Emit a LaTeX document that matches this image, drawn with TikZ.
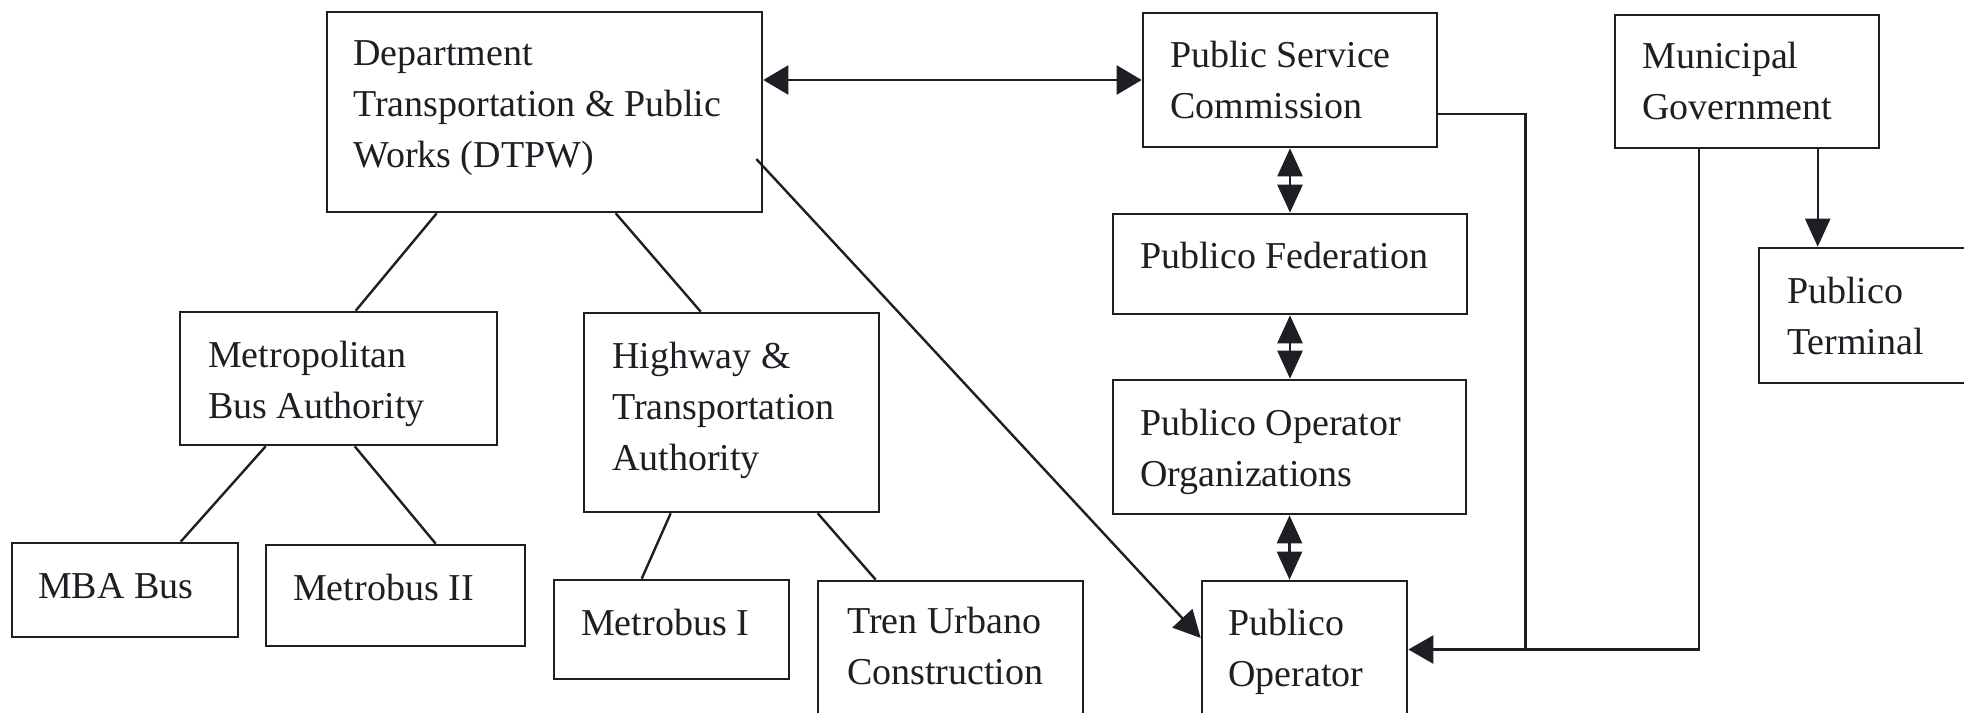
\documentclass[tikz,border=0pt]{standalone}
\usepackage{fontspec}
\setmainfont{Liberation Serif}
\usetikzlibrary{arrows.meta}
\definecolor{ink}{HTML}{1E1E24}
\newcommand\lines[1]{\begin{tabular}[t]{@{}l@{}}#1\end{tabular}}
\begin{document}
\begin{tikzpicture}[x=1pt,y=-1pt,
  box/.style={draw=ink, line width=2.6pt, rectangle, inner sep=0pt},
  lbl/.style={anchor=base west, inner sep=0pt, text=ink, font=\fontsize{38}{51}\selectfont},
  con/.style={draw=ink, line width=2.4pt},
  harr/.style={con, {Triangle[length=25pt,width=29pt]}-{Triangle[length=25pt,width=29pt]}},
  varr/.style={con, {Triangle[length=28pt,width=25pt]}-{Triangle[length=28pt,width=25pt]}},
  oarr/.style={con, -{Triangle[length=27pt,width=27pt]}}]
\path[use as bounding box] (0,0) rectangle (1964,712);
\clip (0,0) rectangle (1964,712);
\fill[white] (0,0) rectangle (1964,712);
% boxes
\node[box, minimum width=435pt, minimum height=200pt] (dtpw) at (544.5,112) {};
\node[box, minimum width=294pt, minimum height=134pt] (psc) at (1290,80) {};
\node[box, minimum width=264pt, minimum height=133pt] (mg) at (1747,81.5) {};
\node[box, minimum width=221pt, minimum height=135pt] (pt) at (1869.5,315.5) {};
\node[box, minimum width=354pt, minimum height=100pt] (pf) at (1290,264) {};
\node[box, minimum width=353pt, minimum height=134pt] (poo) at (1289.5,447) {};
\node[box, minimum width=205pt, minimum height=137pt] (po) at (1304.5,649.5) {};
\node[box, minimum width=317pt, minimum height=133pt] (mba) at (338.5,378.5) {};
\node[box, minimum width=295pt, minimum height=199pt] (hta) at (731.5,412.5) {};
\node[box, minimum width=226pt, minimum height=94pt] (mbab) at (125,590) {};
\node[box, minimum width=259pt, minimum height=101pt] (mii) at (395.5,595.5) {};
\node[box, minimum width=235pt, minimum height=99pt] (mi) at (671.5,629.5) {};
\node[box, minimum width=265pt, minimum height=139pt] (tu) at (950.5,650.5) {};
% texts
\node[lbl] (dtpwt) at (353,65) {\lines{Department\\Transportation \& Public\\Works (DTPW)}};
\node[lbl] (psct) at (1170,67) {\lines{Public Service\\Commission}};
\node[lbl] (mgt) at (1642,68) {\lines{Municipal\\Government}};
\node[lbl] (ptt) at (1787,303) {\lines{Publico\\Terminal}};
\node[lbl] (pft) at (1140,268) {Publico Federation};
\node[lbl] (poot) at (1140,435) {\lines{Publico Operator\\Organizations}};
\node[lbl] (pot) at (1228,635) {\lines{Publico\\Operator}};
\node[lbl] (mbat) at (208,367) {\lines{Metropolitan\\Bus Authority}};
\node[lbl] (htat) at (612,368) {\lines{Highway \&\\Transportation\\Authority}};
\node[lbl] (mbabt) at (38,598) {MBA Bus};
\node[lbl] (miit) at (293,600) {Metrobus II};
\node[lbl] (mit) at (581,635) {Metrobus I};
\node[lbl] (tut) at (847,633) {\lines{Tren Urbano\\Construction}};
% tree lines
\draw[con] ([xshift=111pt]dtpw.south west) -- ([xshift=177pt]mba.north west);
\draw[con] ([xshift=290pt]dtpw.south west) -- ([xshift=118pt]hta.north west);
\draw[con] ([xshift=87pt]mba.south west) -- ([xshift=170pt]mbab.north west);
\draw[con] ([xshift=176pt]mba.south west) -- ([xshift=171pt]mii.north west);
\draw[con] ([xshift=88pt]hta.south west) -- ([xshift=89pt]mi.north west);
\draw[con] ([xshift=235pt]hta.south west) -- ([xshift=59pt]tu.north west);
% arrows
\draw[harr] (dtpw.east |- psc.west) -- (psc.west);
\draw[oarr] ([xshift=-7pt,yshift=-47pt]dtpw.east) -- ([yshift=11.5pt]po.west);
\draw[varr] (psc.south) -- (pf.north);
\draw[varr] (pf.south) -- (pf.south |- poo.north);
\draw[varr] (poo.south) -- (poo.south |- po.north);
\coordinate (jn) at ([xshift=117pt]po.east);
\coordinate (mgl) at ([xshift=85pt]mg.south west);
\coordinate (mgr) at ([xshift=204pt]mg.south west);
\draw[con] ([yshift=-34pt]psc.east) -| (jn);
\draw[con] (mgl) |- (jn);
\draw[con, -{Triangle[length=25pt,width=28pt]}] (jn) -- (po.east);
\draw[con, -{Triangle[length=28pt,width=25pt]}] (mgr) -- (mgr |- pt.north);
\end{tikzpicture}
\end{document}
